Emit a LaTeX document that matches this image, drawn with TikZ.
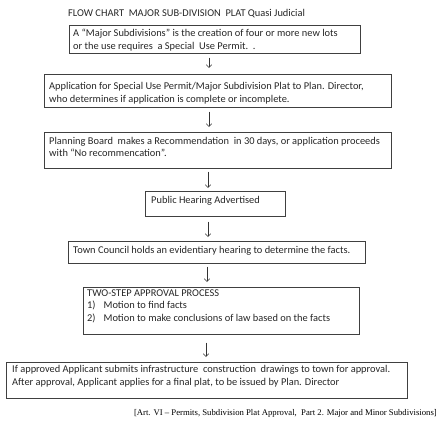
\documentclass[tikz,border=0pt]{standalone}
\usepackage{fontspec}
\setmainfont{Carlito}
\newfontfamily\capfont{Liberation Serif}
\usetikzlibrary{arrows.meta}
\begin{document}
\begin{tikzpicture}[x=1pt,y=-1pt,
  stepbox/.style={draw=black!75, line width=0.6pt, inner sep=0pt, anchor=north west},
  boxtext/.style={anchor=base west, inner sep=0pt, font=\fontsize{10.4}{13.2}\selectfont, text=black!85},
  arr/.style={draw=black!80, line width=0.5pt, -{Straight Barb[length=3pt,width=5.5pt]}}]
\useasboundingbox (0,0) rectangle (438,423);
% title
\node[boxtext] (title) at (68,16.5) {FLOW CHART\ \ MAJOR SUB-DIVISION\ \ PLAT Quasi Judicial};
% boxes
\node[stepbox, minimum width=291pt, minimum height=28pt] (b1) at (69,25) {};
\node[stepbox, minimum width=347pt, minimum height=33pt] (b2) at (44,74) {};
\node[stepbox, minimum width=347pt, minimum height=36pt] (b3) at (44,132) {};
\node[stepbox, minimum width=140pt, minimum height=25pt] (b4) at (145,191) {};
\node[stepbox, minimum width=297pt, minimum height=22pt] (b5) at (68,241) {};
\node[stepbox, minimum width=276pt, minimum height=47pt] (b6) at (83,287) {};
\node[stepbox, minimum width=401pt, minimum height=36pt] (b7) at (6,362) {};
% texts (anchor = baseline of the first line)
\node[boxtext] (t1) at ([shift={(4pt,-11pt)}]b1.north west) {\vtop{\hbox{A “Major Subdivisions” is the creation of four or more new lots}\hbox{or the use requires\ \ a Special\ \ Use Permit.\ \ .}}};
\node[boxtext] (t2) at ([shift={(5pt,-15pt)}]b2.north west) {\vtop{\hbox{Application for Special Use Permit/Major Subdivision Plat to Plan. Director,}\hbox{who determines if application is complete or incomplete.}}};
\node[boxtext, font=\fontsize{10.4}{12.7}\selectfont] (t3) at ([shift={(5pt,-12pt)}]b3.north west) {\vtop{\hbox{Planning Board\ \ makes a Recommendation\ \ in 30 days, or application proceeds}\hbox{with “No recommencation”.}}};
\node[boxtext] (t4) at ([shift={(6pt,-12pt)}]b4.north west) {Public Hearing Advertised};
\node[boxtext] (t5) at ([shift={(5pt,-12.3pt)}]b5.north west) {Town Council holds an evidentiary hearing to determine the facts.};
\node[boxtext, font=\fontsize{10.4}{12.8}\selectfont] (t6) at ([shift={(4pt,-9pt)}]b6.north west) {\vtop{\hbox{TWO-STEP APPROVAL PROCESS}\hbox{1)\hspace{8pt}Motion to find facts}\hbox{2)\hspace{8pt}Motion to make conclusions of law based on the facts}}};
\node[boxtext] (t7) at ([shift={(6pt,-10pt)}]b7.north west) {\vtop{\hbox{If approved Applicant submits infrastructure\ \ construction\ \ drawings to town for approval.}\hbox{After approval, Applicant applies for a final plat, to be issued by Plan. Director}}};
% caption
\node[anchor=base east, inner sep=0pt, font=\capfont\fontsize{8.7}{10}\selectfont] (cap) at (437,415) {[Art. VI – Permits, Subdivision Plat Approval,\ \ Part 2. Major and Minor Subdivisions]};
% arrows
\coordinate (c1) at (209,0);
\coordinate (c3) at (208,0);
\coordinate (c5) at (207,0);
\coordinate (c6) at (206,0);
\draw[arr, shorten <=4pt, shorten >=6pt] (c1 |- b1.south) -- (c1 |- b2.north);
\draw[arr, shorten <=4pt, shorten >=5pt] (c1 |- b2.south) -- (c1 |- b3.north);
\draw[arr, shorten <=3pt, shorten >=3pt] (c3 |- b3.south) -- (c3 |- b4.north);
\draw[arr, shorten <=5pt, shorten >=4pt] (c3 |- b4.south) -- (c3 |- b5.north);
\draw[arr, shorten <=3pt, shorten >=5pt] (c5 |- b5.south) -- (c5 |- b6.north);
\draw[arr, shorten <=8pt, shorten >=5pt] (c6 |- b6.south) -- (c6 |- b7.north);
\end{tikzpicture}
\end{document}
